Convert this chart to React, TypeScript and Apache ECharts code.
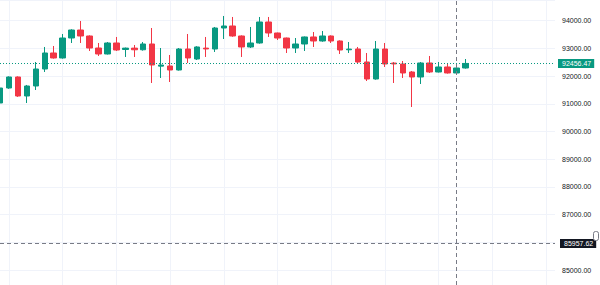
import React, { useEffect, useRef } from "react";
import * as echarts from "echarts";

const opens = [91029, 91570, 91968, 91282, 91643, 92256, 92834, 92654, 93375, 93664, 93448, 93014, 92798, 93195, 92960, 93010, 92950, 93159, 92360, 92365, 92220, 92978, 92617, 93010, 92978, 93736, 93809, 93448, 93051, 93195, 93953, 93556, 93375, 93014, 93159, 93412, 93267, 93448, 93267, 92950, 92978, 92509, 91895, 92978, 92470, 92437, 92148, 91968, 92473, 92148, 92329, 92112, 92292];
const closes = [91570, 91968, 91282, 91643, 92256, 92834, 92654, 93375, 93664, 93448, 93014, 92798, 93195, 92942, 93010, 92950, 93159, 92401, 92400, 92220, 92978, 92654, 93051, 92980, 93736, 93809, 93448, 93051, 93195, 93953, 93556, 93375, 93014, 93159, 93412, 93267, 93448, 93267, 92942, 92975, 92509, 91895, 92978, 92437, 92440, 92112, 91968, 92473, 92148, 92329, 92112, 92292, 92456.47];
const lows = [90990, 91540, 91250, 91029, 91498, 92148, 92630, 92630, 93195, 93195, 92906, 92726, 92780, 92906, 92690, 92690, 92920, 91751, 91932, 91787, 92200, 92473, 92580, 92690, 92870, 93339, 93420, 92690, 93014, 93170, 93412, 93303, 92834, 92834, 92906, 93051, 93240, 93195, 92798, 92834, 92473, 91823, 91870, 92329, 91751, 91932, 90885, 91715, 92112, 92130, 92090, 92080, 92270];
const highs = [91600, 91990, 91990, 91680, 92509, 93051, 93087, 93520, 93690, 93989, 93470, 93195, 93231, 93412, 93030, 93123, 93231, 93736, 93014, 92762, 93014, 93520, 93080, 93412, 93773, 94170, 94134, 93470, 93773, 94134, 94134, 93570, 93390, 93375, 93430, 93592, 93628, 93470, 93290, 93231, 93051, 92834, 93267, 93195, 92509, 92545, 92184, 92509, 92726, 92509, 92473, 92473, 92617];

const slotCount = 63;
const categories = Array.from({ length: slotCount }, (_, i) => String(i));
const priceMin = 84459;
const priceMax = 94747;
const lastPrice = 92456.47;
const crosshairPrice = 85957.62;
const hiddenTick = 86000;
const crosshairCategory = "51";

const UP = "#089981";
const DOWN = "#F23645";
const FONT = "Liberation Sans, Arial, sans-serif";

export default function App() {
  const ref = useRef<HTMLDivElement>(null);
  useEffect(() => {
    if (!ref.current) return;
    const chart = echarts.init(ref.current, null, { renderer: "svg" });
    const data = opens.map((o, i) => [o, closes[i], lows[i], highs[i]]);
    chart.setOption({
      animation: false,
      backgroundColor: "#ffffff",
      grid: { left: 0, right: 45, top: 0, bottom: 0, containLabel: false },
      xAxis: {
        type: "category",
        data: categories,
        boundaryGap: false,
        axisLine: { show: false },
        axisTick: { show: false },
        axisLabel: { show: false },
        splitLine: {
          show: true,
          interval: (i: number) => i % 6 === 1,
          lineStyle: { color: "#f0f3fa", width: 1 },
        },
      },
      yAxis: {
        type: "value",
        position: "right",
        min: priceMin,
        max: priceMax,
        splitNumber: 10,
        axisLine: { show: false },
        axisTick: { show: false },
        axisLabel: {
          margin: 7,
          color: "#131722",
          fontSize: 7,
          fontFamily: FONT,
          showMinLabel: false,
          showMaxLabel: false,
          formatter: (v: number) => (v === hiddenTick ? "" : v.toFixed(2)),
        },
        splitLine: {
          lineStyle: { color: "#f0f3fa", width: 1 },
        },
      },
      series: [
        {
          type: "candlestick",
          data,
          barWidth: 6,
          itemStyle: {
            color: UP,
            color0: DOWN,
            borderColor: UP,
            borderColor0: DOWN,
            borderWidth: 1,
          },
          markLine: {
            silent: true,
            symbol: "none",
            animation: false,
            data: [
              {
                yAxis: lastPrice,
                lineStyle: { color: UP, type: [1, 2], width: 1 },
                label: {
                  show: true,
                  position: "end",
                  distance: 3,
                  formatter: () => lastPrice.toFixed(2),
                  color: "#ffffff",
                  backgroundColor: UP,
                  padding: [1, 3, 1, 4],
                  fontSize: 7,
                  fontFamily: FONT,
                },
              },
              {
                yAxis: crosshairPrice,
                lineStyle: { color: "#787b86", type: [4, 3], width: 1 },
                label: {
                  show: true,
                  position: "end",
                  distance: 5,
                  formatter: () => crosshairPrice.toFixed(2),
                  color: "#ffffff",
                  backgroundColor: "#131722",
                  padding: [1, 3, 1, 4],
                  fontSize: 7,
                  fontFamily: FONT,
                },
              },
              {
                xAxis: crosshairCategory,
                lineStyle: { color: "#787b86", type: [4, 3], width: 1 },
                label: { show: false },
              },
            ],
          },
        },
      ],
      graphic: [
        {
          type: "rect",
          right: 1,
          top: 231,
          shape: { width: 5, height: 9, r: 2 },
          style: { fill: "#ffffff", stroke: "#787b86", lineWidth: 1 },
          z: 100,
        },
      ],
    });
    return () => chart.dispose();
  }, []);
  return (
    <div
      ref={ref}
      style={{ position: "fixed", left: 0, top: 0, width: 600, height: 285, background: "#fff" }}
    />
  );
}
